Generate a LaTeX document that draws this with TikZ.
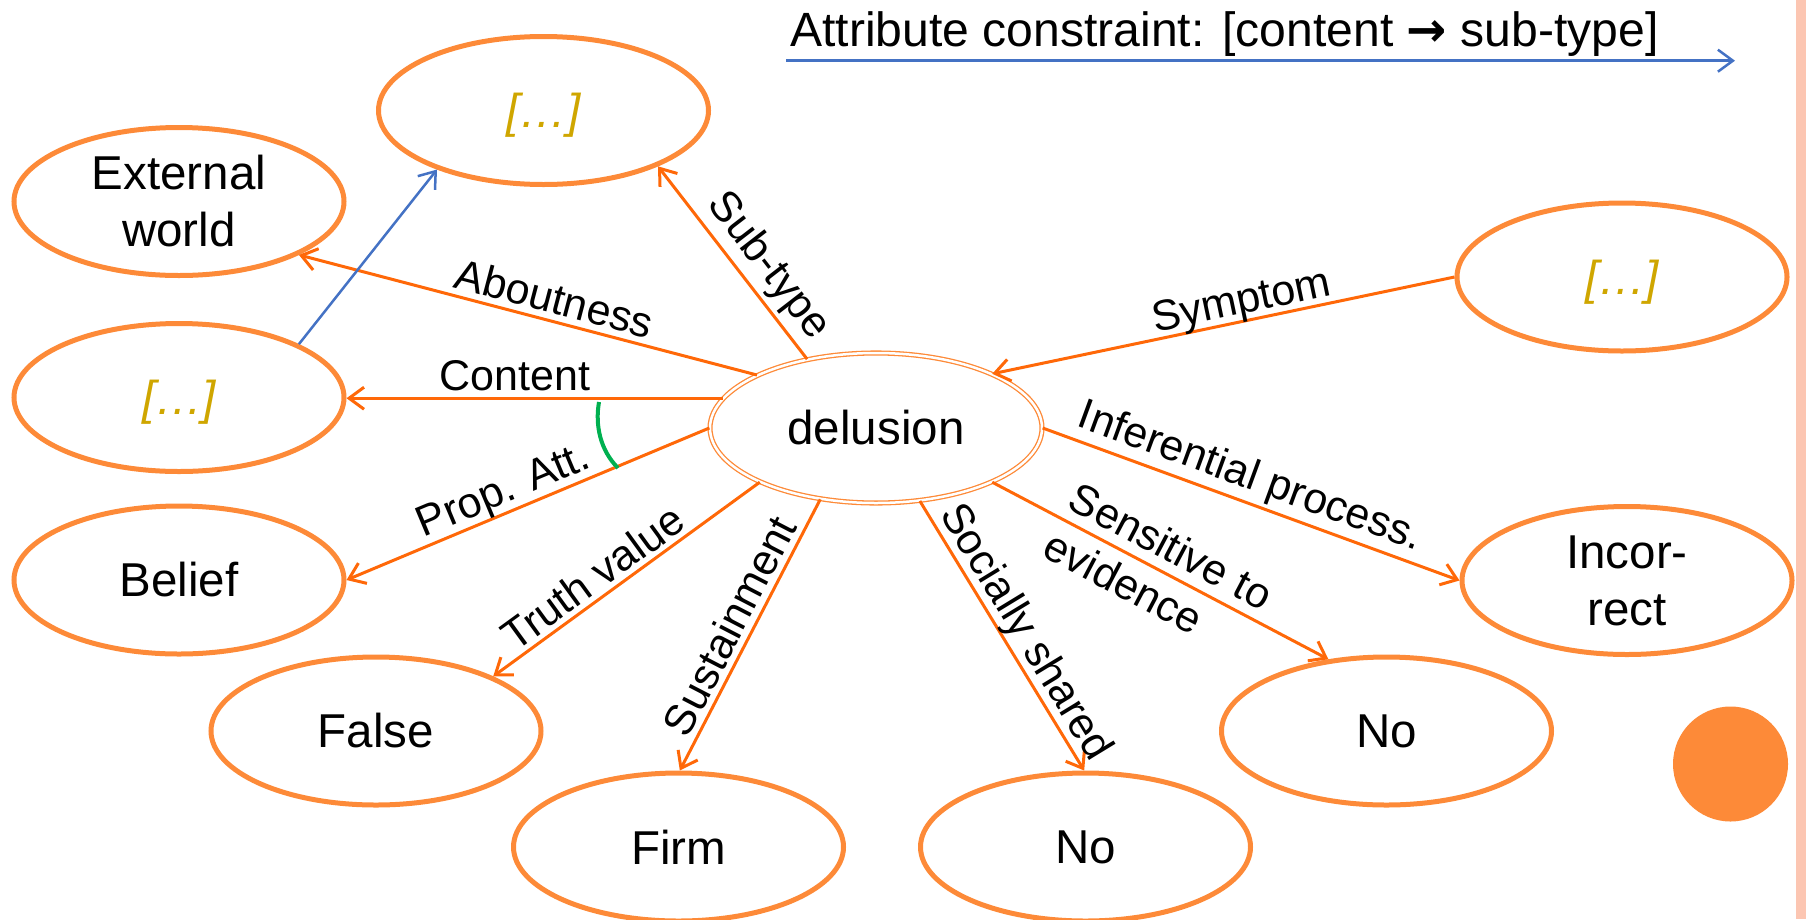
\documentclass[tikz,border=0pt]{standalone}
\usepackage{fontspec}
\setmainfont{Liberation Sans}
\newfontfamily\arrowfont{DejaVu Sans}
\usetikzlibrary{arrows.meta,shapes.geometric}
\definecolor{nodeor}{RGB}{253,138,56}
\definecolor{edgeor}{RGB}{255,104,8}
\definecolor{cblue}{RGB}{68,114,196}
\definecolor{cgreen}{RGB}{0,176,80}
\definecolor{gold}{RGB}{207,166,0}
\definecolor{stripe}{RGB}{252,198,178}
\begin{document}
\begin{tikzpicture}[x=1pt,y=-1pt,
  concept/.style={ellipse, draw=nodeor, line width=5pt, minimum width=330pt,
    minimum height=148pt, inner sep=0pt, align=center,
    font=\fontsize{47.5}{57}\selectfont},
  gap/.style={concept, font=\fontsize{47.5}{57}\selectfont\itshape, text=gold,
    text depth=0pt},
  rel/.style={draw=edgeor, line width=3pt,
    -{Straight Barb[length=15pt,width=22pt]}},
  constraint/.style={draw=cblue, line width=2.5pt,
    -{Straight Barb[length=15pt,width=22pt]}},
  lbl/.style={font=\fontsize{43}{54}\selectfont, sloped, inner sep=0pt,
    anchor=center},
]
\useasboundingbox (0,0) rectangle (1806,919);

% side band and bullet
\fill[stripe] (1796,0) rectangle (1806,919);
\node[circle, fill=nodeor, minimum size=115pt, inner sep=0pt] (dot) at (1730.5,764) {};

% legend
\node[anchor=base west, inner sep=0pt, font=\fontsize{48.1}{57}\selectfont]
  (legend) at (790,46.5) {Attribute constraint: [content {\arrowfont\bfseries →} sub-type]};
\coordinate (la) at (786,60.7);
\coordinate (lb) at (1735,60.7);
\draw[constraint] (la) -- (lb);

% concepts
\node[ellipse, draw=nodeor, double=white, double distance=2.5pt, line width=1.3pt,
  minimum width=332pt, minimum height=150pt, inner sep=0pt,
  font=\fontsize{47.5}{57}\selectfont] (del) at (876,428) {delusion};
\node[gap] (top) at (543.5,110.5) {[…]};
\node[concept] (ext) at (179,201.5) {External\\world};
\node[gap] (cont) at (179,397.5) {[…]};
\node[concept] (belief) at (179,580) {Belief};
\node[concept] (false) at (376,731) {False};
\node[concept] (firm) at (678.5,847) {Firm};
\node[concept] (nosoc) at (1085.5,847) {No};
\node[concept] (nosens) at (1386.5,731) {No};
\node[concept] (incor) at (1627,580.5) {Incor-\\rect};
\node[gap] (symp) at (1622,277) {[…]};

% attributes
\draw[rel] (del.156) -- node[lbl, pos=0.455, yshift=23pt] {Aboutness} (ext.-24);
\draw[rel] (del.135) -- node[lbl, pos=0.40, yshift=26pt] {Sub-type} (top.-26);
\draw[rel] (del.169) -- node[lbl, pos=0.553, yshift=22.5pt] {Content} (del.169 -| cont.east);
\draw[rel] (del.180) -- node[lbl, pos=0.545, yshift=19.5pt] {Prop. Att.} (belief.0);
\draw[rel] (symp.180) -- node[lbl, pos=0.452, yshift=17.8pt] {Symptom} (del.25);
\draw[rel] (del.0) -- node[lbl, pos=0.478, yshift=24.5pt] {Inferential process.} (incor.180);
\draw[rel] (del.-25) -- node[lbl, pos=0.495, align=left] {Sensitive to\\evidence} (nosens.129);
\draw[rel] (del.205) -- node[lbl, pos=0.58, yshift=21.7pt] {Truth value} (false.25);
\draw[rel] (del.232) -- node[lbl, pos=0.505, yshift=22.6pt] {Sustainment} (firm.89);
\draw[rel] (del.-59) -- node[lbl, pos=0.53, yshift=20.5pt] {Socially shared} (nosoc.91);

% constraint between content and sub-type
\draw[constraint] (cont.24) -- (top.209);

% angle mark between content and propositional attitude
\coordinate (ga) at (599,402);
\coordinate (gb) at (618,468);
\draw[cgreen, line width=4pt] (ga) .. controls (595,425) and (600,450) .. (gb);
\end{tikzpicture}
\end{document}
